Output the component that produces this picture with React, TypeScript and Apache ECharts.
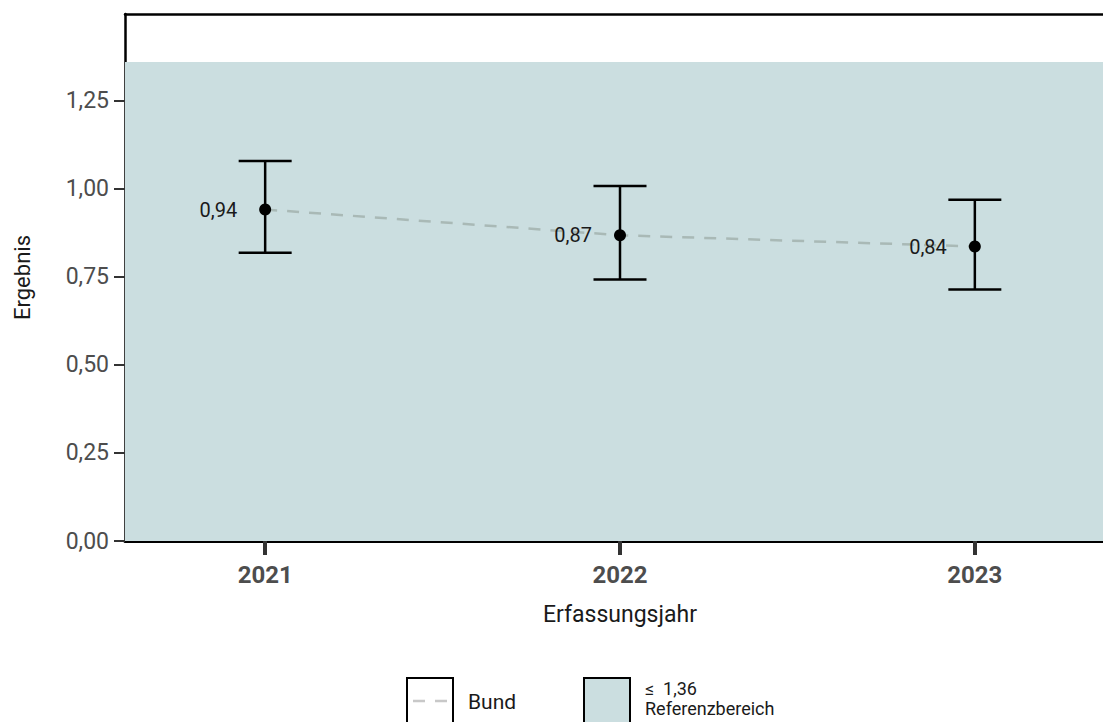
import React, { useEffect, useRef } from "react";
import * as echarts from "echarts";

const years = [2021, 2022, 2023];
const values = [0.941, 0.868, 0.836];
const lower = [0.818, 0.742, 0.714];
const upper = [1.079, 1.008, 0.969];
const yTicks = [0, 0.25, 0.5, 0.75, 1.0, 1.25];
const refLimit = 1.36;
const legendItems = ["Bund", "Referenzbereich"];

const FONT = "Roboto, 'Noto Sans', sans-serif";
const fmt = (v: number) => v.toFixed(2).replace(".", ",");

export default function App() {
  const ref = useRef<HTMLDivElement>(null);
  useEffect(() => {
    document.body.style.margin = "0";
    const chart = echarts.init(ref.current!, undefined, { renderer: "svg" });
    const pts = years.map((y, i) => [y, values[i]]);
    const ci = years.map((y, i) => [y, lower[i], upper[i]]);
    chart.setOption({
      animation: false,
      textStyle: { fontFamily: FONT },
      grid: { left: 125, top: 14, width: 990, height: 527, outerBoundsMode: "none", containLabel: false },
      xAxis: [
        {
          type: "value",
          min: 2020.605,
          max: 2023.395,
          splitLine: { show: false },
          axisLine: { show: true, lineStyle: { color: "#000", width: 3 } },
          axisTick: { show: true, customValues: years, length: 14, lineStyle: { color: "#333", width: 4 } },
          axisLabel: {
            customValues: years,
            formatter: (v: number) => String(v),
            fontSize: 24,
            fontWeight: "bold",
            color: "#4d4d4d",
            margin: 22,
          },
          name: "Erfassungsjahr",
          nameLocation: "middle",
          nameGap: 62,
          nameTextStyle: { fontSize: 23, color: "#1a1a1a" },
        },
        {
          type: "value",
          position: "top",
          min: 2020.605,
          max: 2023.395,
          splitLine: { show: false },
          axisLine: { show: true, lineStyle: { color: "#000", width: 2.5 } },
          axisTick: { show: false },
          axisLabel: { show: false },
        },
      ],
      yAxis: {
        type: "value",
        min: 0,
        max: 1.496,
        splitLine: { show: false },
        axisLine: { show: true, lineStyle: { color: "#000", width: 2.5 } },
        axisTick: { show: true, customValues: yTicks, length: 11, lineStyle: { color: "#333", width: 2 } },
        axisLabel: {
          customValues: yTicks,
          formatter: (v: number) => fmt(v),
          fontSize: 23,
          color: "#4d4d4d",
          margin: 16,
        },
        name: "Ergebnis",
        nameLocation: "middle",
        nameGap: 92,
        nameTextStyle: { fontSize: 22, color: "#1a1a1a" },
      },
      series: [
        {
          type: "line",
          data: pts,
          showSymbol: false,
          symbol: "none",
          lineStyle: { color: "#a9b9b6", width: 2.5, type: [12, 10] },
          z: 2,
          markArea: {
            silent: true,
            itemStyle: { color: "#cbdee0" },
            data: [[{ yAxis: 0 }, { yAxis: refLimit }]],
          },
        },
        {
          type: "custom",
          data: ci,
          z: 3,
          renderItem: (params: any, api: any) => {
            const x = api.value(0);
            const lo = api.coord([x, api.value(1)]);
            const hi = api.coord([x, api.value(2)]);
            const w = 26.5;
            const style = { stroke: "#000", lineWidth: 2.5 };
            return {
              type: "group",
              children: [
                { type: "line", shape: { x1: lo[0], y1: lo[1], x2: hi[0], y2: hi[1] }, style },
                { type: "line", shape: { x1: hi[0] - w, y1: hi[1], x2: hi[0] + w, y2: hi[1] }, style },
                { type: "line", shape: { x1: lo[0] - w, y1: lo[1], x2: lo[0] + w, y2: lo[1] }, style },
              ],
            };
          },
        },
        {
          type: "scatter",
          data: pts,
          symbol: "circle",
          symbolSize: 12,
          itemStyle: { color: "#000", opacity: 1 },
          z: 4,
          label: {
            show: true,
            position: "left",
            distance: 22,
            formatter: (p: any) => fmt(p.value[1]),
            fontSize: 20,
            color: "#1a1a1a",
          },
        },
      ],
      graphic: [
        { type: "rect", shape: { x: 407, y: 678, width: 46, height: 60 }, style: { fill: "#fff", stroke: "#000", lineWidth: 2 } },
        { type: "line", shape: { x1: 413, y1: 701, x2: 448, y2: 701 }, style: { stroke: "#c8c8c8", lineWidth: 2.5, lineDash: [12, 10] } },
        { type: "text", x: 468, y: 702, style: { text: legendItems[0], fontSize: 21, fill: "#1a1a1a", verticalAlign: "middle", fontFamily: FONT } },
        { type: "rect", shape: { x: 584, y: 678, width: 46, height: 60 }, style: { fill: "#cbdee0", stroke: "#000", lineWidth: 2 } },
        { type: "text", x: 645, y: 688, style: { text: "≤  " + fmt(refLimit), fontSize: 18, fill: "#1a1a1a", verticalAlign: "middle", fontFamily: FONT } },
        { type: "text", x: 645, y: 708, style: { text: legendItems[1], fontSize: 18, fill: "#1a1a1a", verticalAlign: "middle", fontFamily: FONT } },
      ],
    });
    return () => chart.dispose();
  }, []);
  return <div ref={ref} style={{ width: 1103, height: 722 }} />;
}
